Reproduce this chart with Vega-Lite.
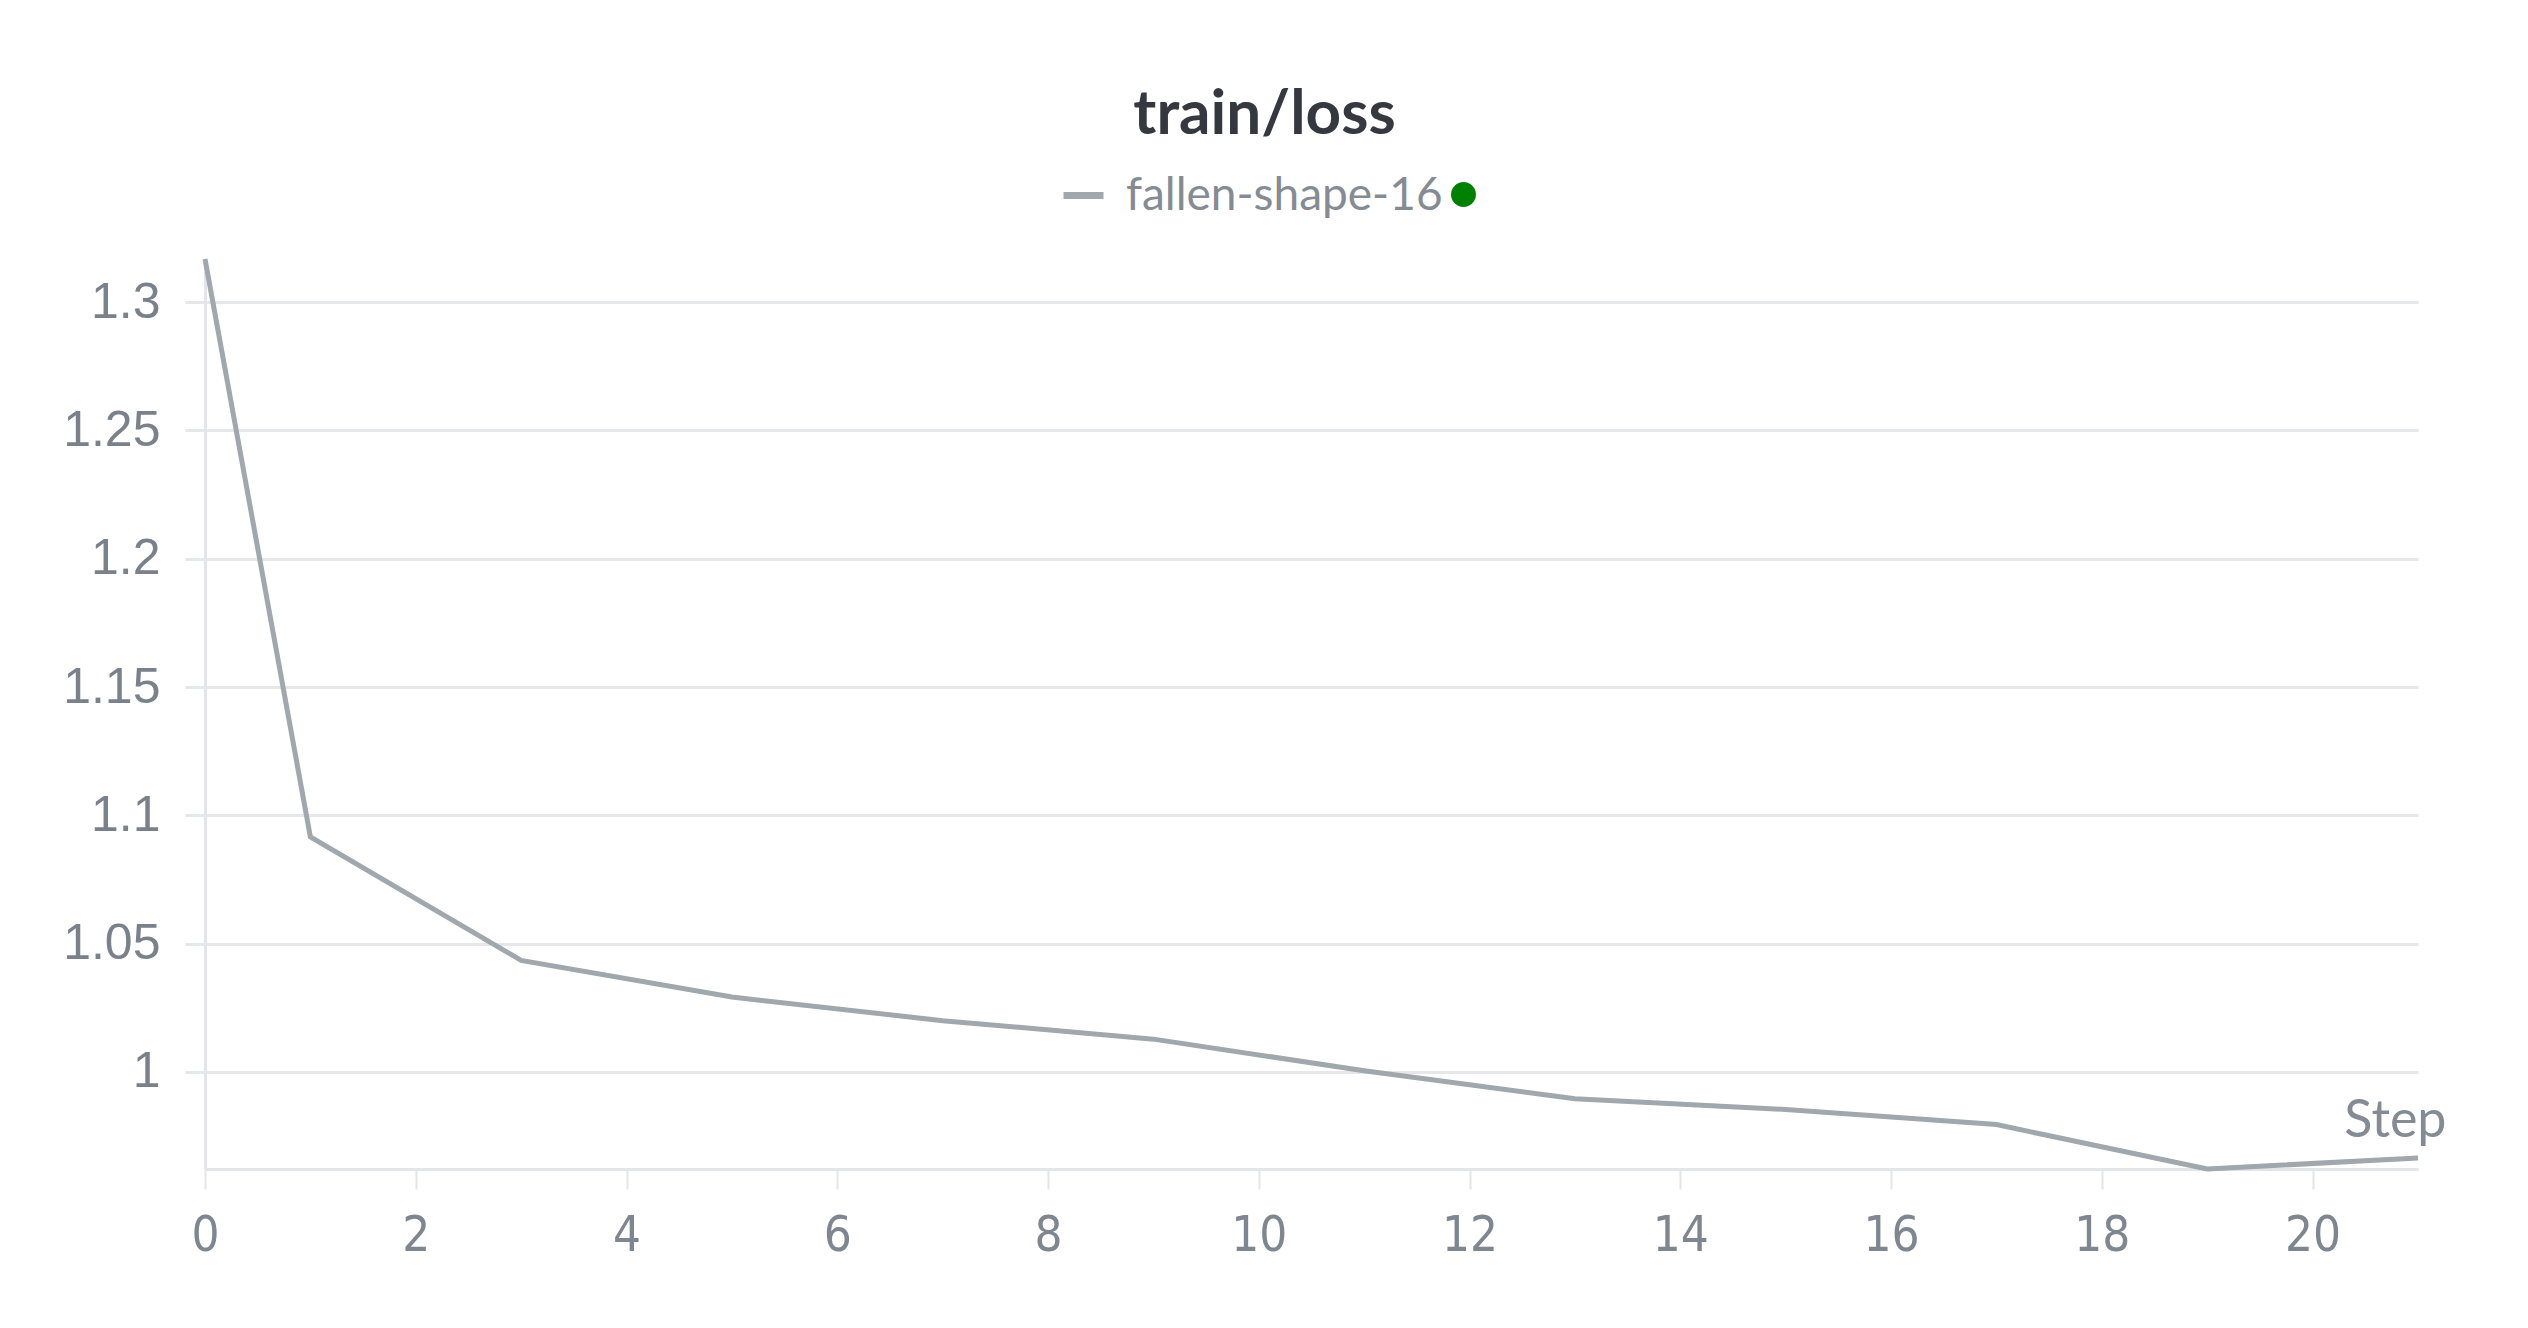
{
  "$schema": "https://vega.github.io/schema/vega-lite/v6.json",
  "autosize": {"type": "none"},
  "width": 2213,
  "height": 910,
  "padding": {"left": 205, "top": 259, "right": 110, "bottom": 159},
  "background": "white",
  "title": {
    "text": "train/loss",
    "anchor": "middle",
    "frame": "group",
    "dx": -47,
    "dy": 61,
    "offset": 37,
    "baseline": "alphabetic",
    "font": "Lato",
    "fontSize": 62,
    "fontWeight": "bold",
    "color": "#35393f"
  },
  "config": {
    "view": {"stroke": null},
    "legend": {"padding": 0}
  },
  "layer": [
    {
      "data": {
        "values": [
          {"step": 0, "loss": 1.3168, "run": "fallen-shape-16"},
          {"step": 1, "loss": 1.0916, "run": "fallen-shape-16"},
          {"step": 3, "loss": 1.0435, "run": "fallen-shape-16"},
          {"step": 5, "loss": 1.0292, "run": "fallen-shape-16"},
          {"step": 7, "loss": 1.0200, "run": "fallen-shape-16"},
          {"step": 9, "loss": 1.0128, "run": "fallen-shape-16"},
          {"step": 11, "loss": 1.0005, "run": "fallen-shape-16"},
          {"step": 13, "loss": 0.9896, "run": "fallen-shape-16"},
          {"step": 15, "loss": 0.9854, "run": "fallen-shape-16"},
          {"step": 17, "loss": 0.9795, "run": "fallen-shape-16"},
          {"step": 19, "loss": 0.9622, "run": "fallen-shape-16"},
          {"step": 21, "loss": 0.9665, "run": "fallen-shape-16"}
        ]
      },
      "mark": {"type": "line", "strokeWidth": 5, "strokeJoin": "miter"},
      "encoding": {
        "x": {
          "field": "step",
          "type": "quantitative",
          "scale": {"domain": [0, 21], "nice": false, "zero": false},
          "axis": {
            "values": [0, 2, 4, 6, 8, 10, 12, 14, 16, 18, 20],
            "format": "d",
            "grid": false,
            "domain": true,
            "domainColor": "#e3e5e8",
            "domainWidth": 3,
            "ticks": true,
            "tickColor": "#e3e5e8",
            "tickWidth": 2,
            "tickSize": 20,
            "labelFlush": false,
            "labelFont": "DejaVu Sans Condensed, Liberation Sans Narrow, Roboto Condensed, Roboto, sans-serif",
            "labelFontSize": 49,
            "labelColor": "#7f8690",
            "labelPadding": 22,
            "labelBaseline": "top",
            "title": "Step",
            "titleFont": "Lato",
            "titleFontSize": 52,
            "titleFontWeight": "normal",
            "titleColor": "#858b93",
            "titleAlign": "right",
            "titleBaseline": "alphabetic",
            "titleAnchor": "end",
            "titleX": 2241,
            "titleY": -33
          }
        },
        "y": {
          "field": "loss",
          "type": "quantitative",
          "scale": {"domain": [0.9622, 1.3168], "nice": false, "zero": false},
          "axis": {
            "values": [1, 1.05, 1.1, 1.15, 1.2, 1.25, 1.3],
            "format": "~g",
            "grid": true,
            "gridColor": "#e6e7ea",
            "gridWidth": 3,
            "domain": true,
            "domainColor": "#e3e5e8",
            "domainWidth": 3,
            "ticks": true,
            "tickColor": "#e6e7ea",
            "tickWidth": 3,
            "tickSize": 20,
            "labelFont": "Liberation Sans",
            "labelFontSize": 50,
            "labelColor": "#7a818b",
            "labelPadding": 25,
            "title": null
          }
        },
        "color": {
          "field": "run",
          "type": "nominal",
          "scale": {"domain": ["fallen-shape-16"], "range": ["#a0a7ad"]},
          "legend": {
            "orient": "none",
            "legendX": 855,
            "legendY": -87,
            "title": null,
            "symbolType": "stroke",
            "symbolSize": 1600,
            "symbolStrokeWidth": 7,
            "labelFont": "Lato",
            "labelFontSize": 46,
            "labelColor": "#858b93",
            "labelOffset": 19,
            "labelLimit": 0
          }
        }
      }
    },
    {
      "data": {"values": []},
      "mark": {"type": "point", "filled": true},
      "encoding": {
        "x": {"field": "step", "type": "quantitative"},
        "y": {"field": "loss", "type": "quantitative"},
        "fill": {
          "field": "state",
          "type": "nominal",
          "scale": {"domain": ["running"], "range": ["#008000"]},
          "legend": {
            "orient": "none",
            "legendX": 1246,
            "legendY": -77,
            "title": null,
            "symbolType": "circle",
            "symbolSize": 620,
            "symbolOpacity": 1,
            "symbolStrokeWidth": 0,
            "labelExpr": "''",
            "labelFontSize": 1
          }
        }
      }
    }
  ]
}
